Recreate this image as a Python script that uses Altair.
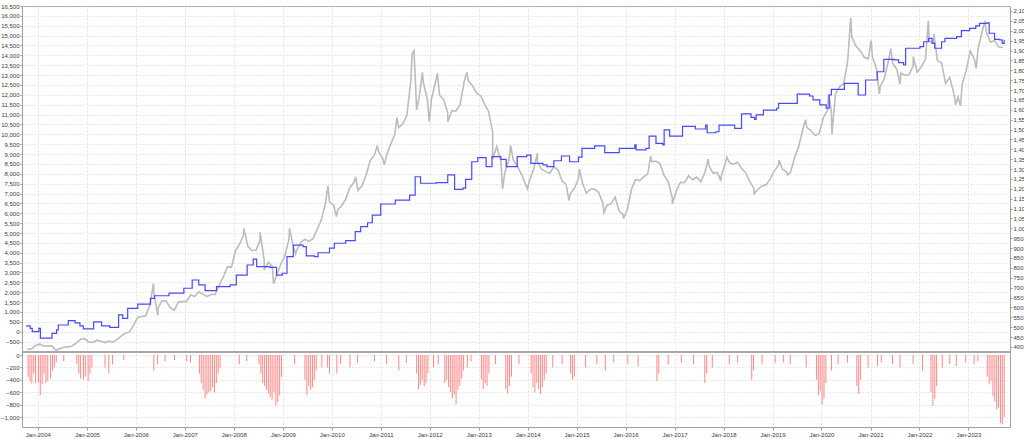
import altair as alt
import pandas as pd

# ---------------- Equity curve (blue, left axis, step line) ----------------
eq_dates = [
    "2003-10-05", "2003-11-05", "2003-11-20", "2004-01-08", "2004-01-20", "2004-04-15",
    "2004-05-20", "2004-06-01", "2004-08-15", "2004-10-05", "2004-11-10", "2004-12-05",
    "2005-02-20", "2005-04-20", "2005-06-20", "2005-08-25", "2005-09-25", "2005-11-01",
    "2006-01-15", "2006-04-20", "2006-05-20", "2006-09-05", "2006-12-25", "2007-02-25",
    "2007-04-15", "2007-06-01", "2007-08-25", "2007-12-05", "2008-01-20", "2008-04-10",
    "2008-05-25", "2008-06-20", "2008-09-25", "2008-11-15", "2008-12-28", "2009-02-01",
    "2009-03-20", "2009-06-01", "2009-06-25", "2009-08-25", "2009-09-20", "2009-12-15",
    "2010-01-20", "2010-04-15", "2010-06-25", "2010-08-05", "2010-09-25", "2010-10-30",
    "2011-01-01", "2011-04-20", "2011-08-05", "2011-09-15", "2011-10-25", "2012-02-20",
    "2012-05-15", "2012-07-05", "2012-09-05", "2012-09-25", "2012-11-10", "2012-12-25",
    "2013-02-25", "2013-04-10", "2013-06-15", "2013-07-25", "2013-10-15", "2013-12-25",
    "2014-01-25", "2014-04-25", "2014-05-25", "2014-07-15", "2014-09-10", "2014-11-10",
    "2015-01-15", "2015-02-10", "2015-05-15", "2015-07-30", "2015-11-15", "2016-03-10",
    "2016-03-20", "2016-06-01", "2016-06-25", "2016-08-15", "2016-10-05", "2016-10-15",
    "2016-11-25", "2017-03-01", "2017-06-05", "2017-08-20", "2017-09-01", "2017-11-05",
    "2017-11-28", "2018-03-25", "2018-05-15", "2018-07-25", "2018-08-20", "2018-09-01",
    "2018-10-25", "2019-02-01", "2019-02-15", "2019-07-05", "2019-10-05", "2019-10-30",
    "2019-12-20", "2020-02-05", "2020-02-28", "2020-03-15", "2020-06-20", "2020-10-01",
    "2020-11-25", "2021-02-20", "2021-04-10", "2021-06-25", "2021-07-30", "2021-09-05",
    "2021-09-20", "2022-01-05", "2022-02-01", "2022-03-10", "2022-04-05", "2022-04-25",
    "2022-06-15", "2022-07-10", "2022-10-05", "2022-11-10", "2023-01-10", "2023-02-25",
    "2023-03-25", "2023-05-20", "2023-06-05", "2023-07-15", "2023-08-20", "2023-09-10",
    "2023-09-25", "2023-10-01",
]
eq_values = [
    300, 170, 0, 170, -330, -80,
    90, 340, 560, 450, 300, 140,
    500, 290, 220, 850, 680, 1180,
    1400, 1690, 1820, 1950, 2200, 2620,
    2370, 2080, 2280, 2370, 2870, 3380,
    3680, 3300, 3260, 2870, 2960, 3800,
    4390, 4310, 3840, 3800, 4000, 4230,
    4480, 4610, 5070, 5320, 5520, 5910,
    6470, 6670, 6920, 7850, 7520, 7550,
    7940, 7210, 7270, 7720, 8610, 8820,
    8360, 8870, 8730, 8360, 8870, 8950,
    8530, 8450, 8360, 8660, 8900, 8610,
    8840, 9290, 9410, 9070, 9290, 9460,
    9210, 9290, 9910, 9540, 9460, 10220,
    9910, 10400, 10270, 10470, 10080, 10130,
    10470, 10300, 11030, 10860, 10760, 10980,
    11230, 11320, 11570, 12040, 11940, 11740,
    11490, 11320, 11990, 12280, 12580, 11990,
    12750, 13170, 13800, 13770, 13630, 13510,
    14360, 14440, 14690, 14860, 14610, 14360,
    14690, 14860, 14950, 15250, 15370, 15490,
    15620, 15650, 15120, 14810, 14780, 14610,
    14740, 14740,
]

# ---------------- Gold price (grey, right axis) ----------------
gold_monthly = {
    2003: [388, 390, 407],
    2004: [414, 405, 406, 404, 383, 392, 398, 400, 406, 420, 439, 442],
    2005: [424, 423, 434, 429, 422, 430, 424, 438, 456, 470, 476, 510],
    2006: [549, 555, 557, 610, 675, 596, 633, 632, 598, 586, 628, 629],
    2007: [631, 664, 655, 679, 667, 655, 665, 665, 712, 754, 806, 803],
    2008: [889, 922, 968, 909, 888, 889, 939, 839, 829, 806, 760, 816],
    2009: [858, 943, 924, 890, 928, 945, 934, 949, 996, 1043, 1127, 1134],
    2010: [1117, 1095, 1113, 1148, 1205, 1232, 1193, 1215, 1271, 1343, 1370, 1391],
    2011: [1356, 1372, 1424, 1473, 1510, 1529, 1572, 1756, 1772, 1665, 1739, 1652],
    2012: [1656, 1743, 1674, 1651, 1585, 1596, 1594, 1626, 1744, 1747, 1722, 1685],
    2013: [1671, 1627, 1593, 1487, 1414, 1343, 1286, 1347, 1349, 1316, 1275, 1225],
    2014: [1244, 1300, 1336, 1299, 1287, 1279, 1311, 1296, 1239, 1222, 1176, 1202],
    2015: [1251, 1227, 1178, 1198, 1199, 1181, 1128, 1117, 1125, 1159, 1086, 1068],
    2016: [1097, 1200, 1246, 1242, 1260, 1276, 1337, 1341, 1326, 1267, 1236, 1152],
    2017: [1192, 1234, 1231, 1266, 1246, 1260, 1236, 1283, 1315, 1280, 1283, 1265],
    2018: [1331, 1331, 1325, 1335, 1304, 1281, 1238, 1201, 1198, 1215, 1221, 1250],
    2019: [1291, 1320, 1300, 1286, 1284, 1359, 1413, 1500, 1510, 1495, 1470, 1480],
    2020: [1560, 1597, 1592, 1683, 1716, 1732, 1847, 1968, 1921, 1900, 1866, 1858],
    2021: [1867, 1808, 1718, 1760, 1850, 1834, 1807, 1785, 1775, 1777, 1821, 1790],
    2022: [1817, 1856, 1948, 1937, 1849, 1837, 1733, 1764, 1681, 1664, 1726, 1798],
    2023: [1898, 1855, 1912, 2000, 1992, 1942, 1951, 1918, 1915],
}
gold_extreme_dates = [
    "2006-05-12", "2006-06-14", "2008-03-17", "2008-07-15", "2008-08-15", "2008-10-24",
    "2009-02-20", "2009-04-06", "2009-12-03", "2010-02-05", "2010-06-28", "2010-12-07",
    "2011-01-28", "2011-05-02", "2011-08-22", "2011-09-06", "2011-09-26", "2011-11-08",
    "2011-12-29", "2012-02-28", "2012-05-16", "2012-10-04", "2013-04-15", "2013-06-28",
    "2013-08-27", "2013-12-31", "2014-03-14", "2014-11-05", "2015-01-22", "2015-07-24",
    "2015-12-17", "2016-07-06", "2016-12-15", "2017-09-08", "2017-12-12", "2018-01-25",
    "2018-08-16", "2019-02-20", "2019-04-23", "2019-09-04", "2020-02-24", "2020-03-19",
    "2020-08-06", "2021-01-06", "2021-03-08", "2021-06-01", "2021-08-09", "2021-11-16",
    "2022-03-08", "2022-04-18", "2022-09-28", "2022-11-03", "2023-02-28", "2023-05-04",
]
gold_extreme_values = [
    720, 560, 1000, 980, 790, 720,
    1000, 870, 1215, 1060, 1260, 1420,
    1320, 1560, 1880, 1900, 1600, 1790,
    1540, 1785, 1540, 1790, 1350, 1200,
    1420, 1200, 1380, 1140, 1300, 1080,
    1050, 1365, 1125, 1350, 1240, 1360,
    1175, 1345, 1270, 1550, 1680, 1475,
    2065, 1950, 1680, 1910, 1730, 1870,
    2050, 1985, 1625, 1620, 1810, 2050,
]

# ---------------- Drawdown bars (red, lower panel) ----------------
dd_dates = [
    "2003-10-20", "2003-11-03", "2003-11-17", "2003-12-01", "2003-12-15", "2004-01-05",
    "2004-01-19", "2004-02-02", "2004-02-16", "2004-03-01", "2004-03-15", "2004-04-05",
    "2004-04-19", "2004-05-03", "2004-05-17", "2004-07-12", "2004-10-18", "2004-11-01",
    "2004-11-15", "2004-12-06", "2004-12-20", "2005-01-10", "2005-01-24", "2005-02-07",
    "2005-05-16", "2005-06-13", "2005-07-11", "2005-10-03", "2006-05-15", "2006-06-12",
    "2006-08-07", "2006-10-16", "2007-01-15", "2007-02-12", "2007-04-20", "2007-05-04",
    "2007-05-18", "2007-06-01", "2007-06-15", "2007-06-29", "2007-07-13", "2007-07-27",
    "2007-08-10", "2007-08-24", "2007-09-07", "2007-09-21", "2008-02-11", "2008-04-07",
    "2008-07-07", "2008-07-21", "2008-08-04", "2008-08-18", "2008-09-01", "2008-09-15",
    "2008-09-29", "2008-10-13", "2008-10-27", "2008-11-10", "2008-11-24", "2008-12-08",
    "2008-12-22", "2009-03-30", "2009-06-15", "2009-06-29", "2009-07-13", "2009-07-27",
    "2009-08-10", "2009-08-24", "2009-09-07", "2009-10-19", "2009-12-01", "2009-12-15",
    "2010-02-08", "2010-03-08", "2010-05-17", "2010-07-12", "2010-11-15", "2011-02-14",
    "2011-05-16", "2011-07-11", "2011-09-26", "2011-10-10", "2011-10-24", "2011-11-07",
    "2011-11-21", "2011-12-05", "2011-12-19", "2012-01-30", "2012-03-05", "2012-04-23",
    "2012-05-07", "2012-05-21", "2012-06-04", "2012-06-18", "2012-07-02", "2012-07-16",
    "2012-07-30", "2012-08-13", "2012-08-27", "2012-09-10", "2012-10-08", "2012-11-05",
    "2013-01-21", "2013-02-04", "2013-02-18", "2013-03-04", "2013-03-18", "2013-05-06",
    "2013-07-22", "2013-08-05", "2013-08-19", "2013-09-02", "2013-10-28", "2014-01-27",
    "2014-02-10", "2014-02-24", "2014-03-10", "2014-03-24", "2014-04-07", "2014-04-21",
    "2014-05-05", "2014-05-19", "2014-07-07", "2014-09-15", "2014-11-17", "2014-12-01",
    "2014-12-15", "2015-03-09", "2015-06-01", "2015-08-03", "2015-10-05", "2016-01-18",
    "2016-04-04", "2016-08-22", "2016-09-05", "2016-11-14", "2017-02-20", "2017-05-22",
    "2017-08-14", "2017-08-28", "2017-10-09", "2018-02-12", "2018-04-16", "2018-07-30",
    "2018-08-13", "2018-10-15", "2019-01-21", "2019-03-25", "2019-05-13", "2019-09-09",
    "2019-11-25", "2019-12-09", "2019-12-23", "2020-01-06", "2020-01-20", "2020-02-03",
    "2020-03-16", "2020-05-04", "2020-07-13", "2020-09-21", "2020-10-05", "2020-10-19",
    "2020-12-14", "2021-02-22", "2021-03-22", "2021-06-14", "2021-08-09", "2021-11-15",
    "2022-01-24", "2022-03-28", "2022-04-11", "2022-04-25", "2022-05-09", "2022-06-20",
    "2022-08-15", "2022-10-03", "2022-12-12", "2023-02-13", "2023-03-13", "2023-05-22",
    "2023-06-05", "2023-06-19", "2023-07-03", "2023-07-17", "2023-07-31", "2023-08-14",
    "2023-08-28", "2023-09-11", "2023-09-25",
]
dd_values = [
    -350, -420, -460, -300, -450, -440,
    -650, -470, -300, -450, -420, -380,
    -250, -200, -120, -100, -150, -300,
    -380, -400, -350, -420, -300, -200,
    -200, -300, -150, -80, -250, -150,
    -100, -80, -100, -120, -300, -450,
    -560, -700, -640, -600, -580, -520,
    -600, -450, -300, -200, -150, -100,
    -150, -300, -450, -500, -560, -620,
    -680, -720, -600, -820, -760, -650,
    -350, -150, -400, -650, -500, -560,
    -520, -400, -250, -200, -200, -300,
    -300, -150, -200, -120, -100, -150,
    -250, -120, -300, -550, -480, -400,
    -500, -450, -300, -200, -150, -450,
    -400, -520, -600, -700, -640, -800,
    -560, -500, -380, -250, -200, -100,
    -400, -550, -450, -500, -300, -150,
    -550, -620, -500, -350, -150, -300,
    -520, -600, -450, -550, -630, -520,
    -400, -300, -200, -150, -300, -400,
    -350, -200, -150, -250, -120, -150,
    -180, -420, -300, -150, -130, -150,
    -450, -300, -200, -150, -120, -400,
    -250, -150, -130, -120, -150, -200,
    -400, -650, -580, -800, -700, -450,
    -250, -150, -120, -500, -630, -400,
    -200, -180, -120, -150, -200, -150,
    -250, -600, -820, -700, -500, -200,
    -150, -180, -120, -150, -100, -350,
    -470, -420, -660, -750, -880, -850,
    -1100, -1120, -1000,
]

# ---------------- tables ----------------
eq_df = pd.DataFrame({"date": eq_dates, "value": eq_values})

g_dates, g_vals = [], []
for yr, vals in gold_monthly.items():
    start = 10 if yr == 2003 else 1
    for i, v in enumerate(vals):
        g_dates.append(f"{yr}-{start + i:02d}-15")
        g_vals.append(v)
g_dates += gold_extreme_dates
g_vals += gold_extreme_values
gold_df = pd.DataFrame({"date": g_dates, "gold": g_vals}).sort_values("date")

dd_df = pd.DataFrame({"date": dd_dates, "dd": dd_values})

FONT = "Liberation Sans"
LBL = "#3a3a3a"
NUMFMT = ",.0f"
x_scale = alt.Scale(domain=[alt.DateTime(year=2003, month=10, date=12),
                            alt.DateTime(year=2023, month=10, date=1)])
x_axis = alt.Axis(values=[alt.DateTime(year=y, month=1, date=1) for y in range(2004, 2024)],
                  format="%b-%Y", grid=True, gridColor="#e2e2e2", gridDash=[2, 2],
                  tickSize=3, tickColor="#999", labelFontSize=6, labelPadding=1,
                  labelFont=FONT, labelColor=LBL, domain=False, labelFlush=False)

bars = alt.Chart(dd_df).mark_bar(size=1, color="#ff6a6a", opacity=0.8).encode(
    x=alt.X("date:T", title=None, scale=x_scale, axis=x_axis),
    y=alt.Y("dd:Q", title=None,
            scale=alt.Scale(domain=[-1161, 5629], nice=False, zero=True),
            axis=alt.Axis(orient="left", values=[-1000, -800, -600, -400, -200, 0], format=NUMFMT,
                          grid=True, gridDash=[1, 2], gridColor="#d4d4d4", tickSize=2,
                          tickColor="#999", labelFontSize=6, labelPadding=1, labelFont=FONT,
                          labelColor=LBL, domain=False)),
)

gold = alt.Chart(gold_df).mark_line(color="#bcbcbc", strokeWidth=1.6).encode(
    x=alt.X("date:T", scale=x_scale),
    y=alt.Y("gold:Q", title=None,
            scale=alt.Scale(domain=[-5.3, 2125.3], nice=False, zero=False),
            axis=alt.Axis(orient="right", values=list(range(400, 2101, 50)), format=NUMFMT,
                          grid=False, tickSize=2, tickColor="#999", labelFontSize=6,
                          labelPadding=1, labelFont=FONT, labelColor=LBL, domain=False)),
)

equity = alt.Chart(eq_df).mark_line(interpolate="step-after", color="#4848ff", strokeWidth=1.2).encode(
    x=alt.X("date:T", scale=x_scale),
    y=alt.Y("value:Q", title=None,
            scale=alt.Scale(domain=[-4828, 16500], nice=False, zero=False),
            axis=alt.Axis(orient="left", values=list(range(-500, 16501, 500)), format=NUMFMT,
                          grid=True, gridDash=[1, 2], gridColor="#d4d4d4", tickSize=2,
                          tickColor="#999", labelFontSize=6, labelPadding=1, labelFont=FONT,
                          labelColor=LBL, domain=False)),
)

divider = alt.Chart(eq_df).mark_rule(color="#a8a8a8", strokeWidth=1).encode(y=alt.value(346))

chart = alt.layer(bars, gold, equity, divider).resolve_scale(y="independent").properties(
    width=988, height=421,
    autosize=alt.AutoSizeParams(type="none"),
    padding={"left": 22, "top": 6, "right": 14, "bottom": 12},
).configure_view(stroke="#a0a0a0", strokeWidth=1)

chart.save("out.html", embed_options={"renderer": "svg", "actions": False})
